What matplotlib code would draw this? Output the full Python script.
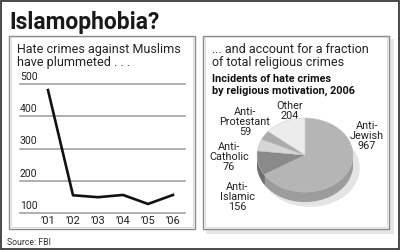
import matplotlib
matplotlib.use("Agg")
import matplotlib.pyplot as plt
from matplotlib.patches import Rectangle

plt.rcParams['font.family'] = ['Roboto', 'DejaVu Sans']

# line chart data
years = ["\u201901", "\u201902", "\u201903", "\u201904", "\u201905", "\u201906"]
muslim_crimes = [481, 155, 149, 156, 128, 156]
y_ticks = [100, 200, 300, 400, 500]

# pie chart data (2006)
motives = ["Anti-\nJewish", "Anti-\nIslamic", "Anti-\nCatholic", "Anti-\nProtestant", "Other"]
incidents = [967, 156, 76, 59, 204]
top_colors = ["#b5b5b5", "#8a8a8a", "#d6d6d6", "#ababab", "#ececec"]
side_colors = ["#9c9c9c", "#6e6e6e", "#bdbdbd", "#939393", "#d4d4d4"]

W, H = 400, 250
fig = plt.figure(figsize=(4, 2.5), dpi=100)
fig.patch.set_facecolor("white")

# background axes in pixel coords for frames and text
bg = fig.add_axes([0, 0, 1, 1])
bg.set_xlim(0, W)
bg.set_ylim(H, 0)
bg.axis("off")


def box(x, y, w, h):
    return [x / W, 1 - (y + h) / H, w / W, h / H]


# outer frame
bg.add_patch(Rectangle((0.8, 0.8), W - 1.6, H - 1.6, fill=False, ec="#3a3a3a", lw=1.3))
# left panel
bg.add_patch(Rectangle((9, 35.5), 186, 193.5, fill=False, ec="#8a8a8a", lw=1.0))
bg.add_patch(Rectangle((10.8, 37.3), 182.4, 189.9, fill=False, ec="#dcdcdc", lw=0.7))
# right panel with shadow
bg.add_patch(Rectangle((206, 39), 188, 195, fc="#e6e6e6", ec="none"))
bg.add_patch(Rectangle((203, 35.5), 186, 193.5, fc="white", ec="#8a8a8a", lw=1.0))
bg.add_patch(Rectangle((204.8, 37.3), 182.4, 189.9, fill=False, ec="#dcdcdc", lw=0.7))

bg.text(9, 29.5, "Islamophobia?", fontsize=16.5, fontweight="bold", va="baseline", color="#1a1a1a")
bg.text(17, 53.3, "Hate crimes against Muslims", fontsize=9, va="baseline", color="#222")
bg.text(17, 66, "have plummeted . . .", fontsize=9, va="baseline", color="#222")
bg.text(212, 52.7, "... and account for a fraction", fontsize=9, va="baseline", color="#222")
bg.text(212, 66, "of total religious crimes", fontsize=9, va="baseline", color="#222")
bg.text(212, 82.3, "Incidents of hate crimes", fontsize=7.8, fontweight="bold", va="baseline", color="#111")
bg.text(212, 93.8, "by religious motivation, 2006", fontsize=7.8, fontweight="bold", va="baseline", color="#111")
bg.text(7, 245, "Source: FBI", fontsize=6.3, va="baseline", color="#333")

# line chart
ax = fig.add_axes(box(20, 84, 165, 129))
ax.set_facecolor("none")
for v in y_ticks:
    ax.axhline(v, color="#9a9a9a", lw=1.1, clip_on=False, zorder=1)
    ax.annotate(str(v), xy=(0, v), xycoords=("axes fraction", "data"), xytext=(0, 1.5),
                textcoords="offset points", fontsize=7.5, va="bottom", ha="left", color="#222")
ax.plot(range(len(years)), muslim_crimes, color="#111", lw=1.9, solid_joinstyle="miter",
        clip_on=False, zorder=3)
ax.set_xlim(-1.12, 5.48)
ax.set_ylim(100, 500)
ax.set_xticks(range(len(years)), years)
ax.set_yticks([])
ax.tick_params(axis="x", length=0, pad=2.5, labelsize=8, labelcolor="#222")
for s in ax.spines.values():
    s.set_visible(False)

# pie chart, drawn as a tilted disc
pax = fig.add_axes(box(245, 108, 120, 110))
pax.pie([1], colors=["#e4e4e4"], center=(0.1, -0.36), radius=1.04, wedgeprops=dict(lw=0))
steps = 10
for k in range(steps, 0, -1):
    pax.pie(incidents, colors=side_colors, startangle=90, counterclock=False,
            center=(0, -k * 0.027), wedgeprops=dict(lw=0))
pax.pie(incidents, colors=top_colors, startangle=90, counterclock=False,
        wedgeprops=dict(lw=0.3, ec="#c8c8c8"))
pax.set_aspect("auto")
pax.set_xlim(-1.25, 1.25)
pax.set_ylim(-1.70, 1.27)
pax.axis("off")

# pie labels
label_pos = [(367, 136), (237, 197), (229, 157), (245, 122), (290, 111)]
for name, n, (lx, ly) in zip(motives, incidents, label_pos):
    bg.text(lx, ly, f"{name}\n{n}", fontsize=7.8, ha="center", va="center",
            linespacing=1.0, color="#222")

fig.savefig("out.png", dpi=100)
